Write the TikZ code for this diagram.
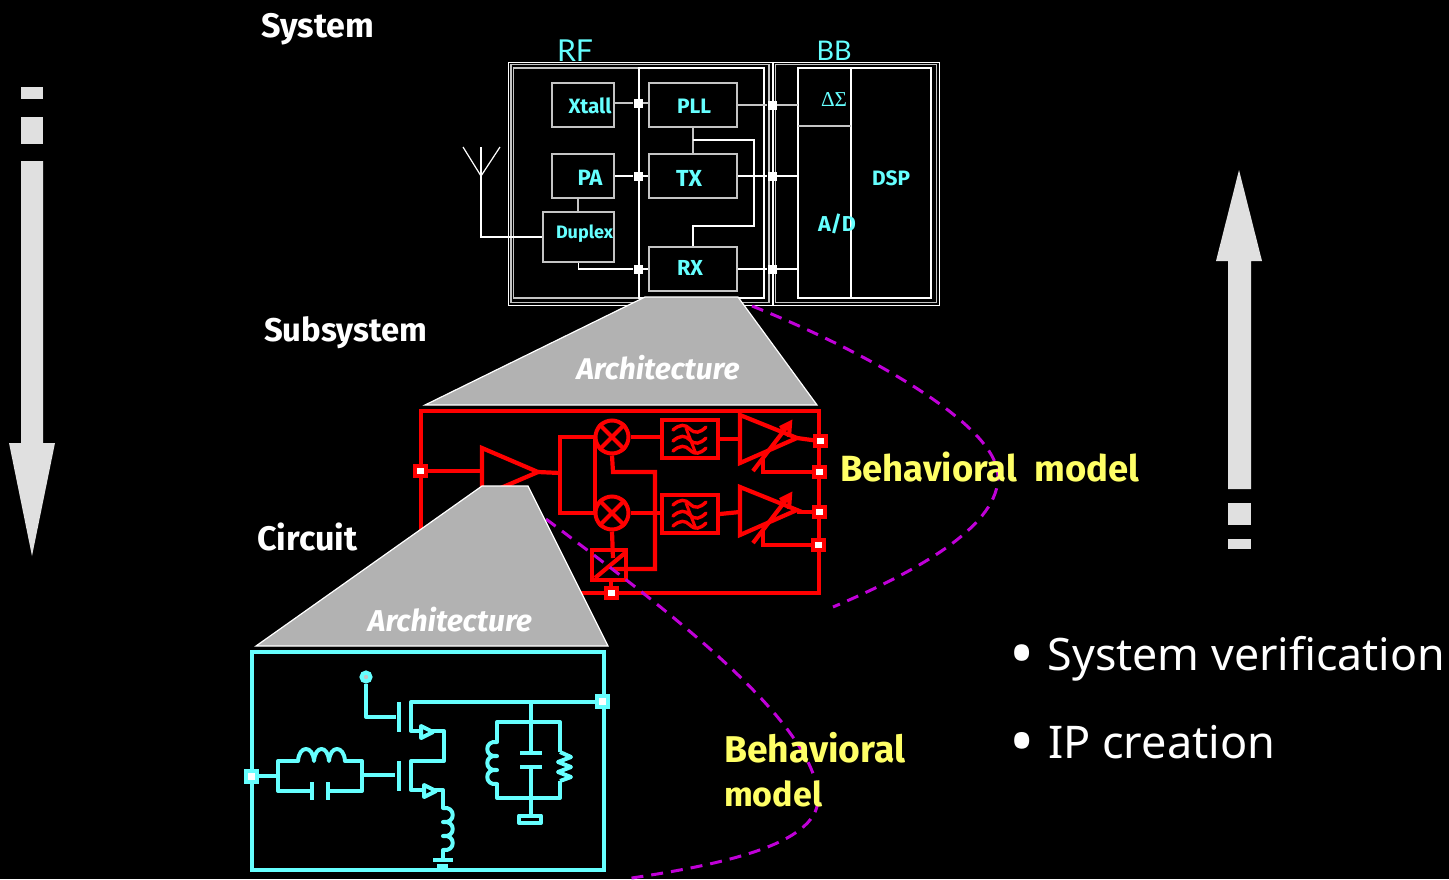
\documentclass[tikz,border=0pt]{standalone}
\usepackage{fontspec}
\usepackage{graphicx}
\setmainfont{Noto Sans}
\newfontfamily\hand{Fira Sans}[BoldFont={Fira Sans Bold},ItalicFont={Fira Sans Italic}]
\newfontfamily\thin{Lato}
\newfontfamily\sym{Liberation Serif}
\newcommand{\fitw}[2]{\resizebox{#1pt}{!}{#2}}
\definecolor{cy}{HTML}{66FFFF}
\definecolor{yl}{HTML}{FFFF66}
\definecolor{mg}{HTML}{C000D8}
\definecolor{gr}{HTML}{B2B2B2}
\definecolor{ar}{HTML}{E0E0E0}
\definecolor{ln}{HTML}{C4C4C4}
\newcommand{\vcoil}[4]{% x, y0, bump height, n
  \foreach \i in {1,...,#4}{ (#1,{#2+(\i-1)*#3}) .. controls (#1-13,{#2+(\i-1)*#3-2}) and (#1-13,{#2+\i*#3+2}) .. (#1,{#2+\i*#3}) }}
\tikzset{
  gbox/.style={draw=ln,line width=1.5pt,inner sep=0pt},
  wsq/.style={fill=white,draw=none,minimum size=9pt,inner sep=0pt},
  wl/.style={draw=white,line width=1.2pt},
  cyl/.style={text=cy,inner sep=0pt},
  rd/.style={draw=red,line width=4.2pt,line join=miter},
  rsq/.style={draw=red,fill=white,line width=4pt,minimum width=11pt,minimum height=10pt,inner sep=0pt},
  cya/.style={draw=cy,line width=4pt,line join=round},
  csq/.style={draw=cy,fill=white,line width=4pt,minimum size=11pt,inner sep=0pt},
  dsh/.style={draw=mg,line width=3pt,dash pattern=on 12pt off 8pt},
  gtrap/.style={fill=gr,draw=white,line width=1.2pt},
  heavy/.style={text=white,font=\hand\bfseries,inner sep=0pt,anchor=west},
  ylw/.style={text=yl,font=\hand\bfseries,inner sep=0pt,anchor=west},
  arch/.style={text=white,font=\hand\bfseries\itshape,inner sep=0pt},
  bul/.style={text=white,inner sep=0pt,anchor=west},
  blab/.style={text=cy,inner sep=0pt,font=\hand\bfseries},
  bar/.style={fill=ar,draw=none}
}
\begin{document}
\begin{tikzpicture}[x=1pt,y=-1pt]
\useasboundingbox[fill=black] (0,0) rectangle (1449,879);
% side arrows
\fill[bar] (21,87) rectangle (43,99);
\fill[bar] (21,117) rectangle (43,144);
\fill[bar] (21,161) -- (43,161) -- (43,443) -- (55,443) -- (32,556) -- (9,443) -- (21,443) -- cycle;
\fill[bar] (1228,539) rectangle (1251,549);
\fill[bar] (1228,503) rectangle (1251,525);
\fill[bar] (1228,489) -- (1251,489) -- (1251,261) -- (1262,261) -- (1239,170) -- (1216,261) -- (1228,261) -- cycle;
% headings
\node[heavy] (hsys) at (261,29) {\fitw{113}{System}};
\node[heavy] (hsub) at (264,333) {\fitw{163}{Subsystem}};
\node[heavy] (hcir) at (257,537) {\fitw{100}{Circuit}};
\node[cyl] (lrf) at (575,51) {\thin\fitw{36}{RF}};
\node[cyl] (lbb) at (834,51) {\thin\fitw{35}{BB}};
% RF frames
\node[draw=white,line width=1pt,minimum width=264,minimum height=243,inner sep=0pt] (rfo) at (640,183.5) {};
\node[draw=ln,line width=1.6pt,minimum width=258,minimum height=238,inner sep=0pt] (rfi) at (640,183.5) {};
\node[draw=ln,line width=1.3pt,minimum width=125,minimum height=230,inner sep=0pt] (rfl) at (576,183) {};
\node[draw=white,line width=2pt,minimum width=125,minimum height=230,inner sep=0pt] (rfr) at (701.5,183) {};
\node[draw=white,line width=1pt,minimum width=166,minimum height=243,inner sep=0pt] (bbo) at (856,183.5) {};
\node[draw=ln,line width=1.6pt,minimum width=161,minimum height=238,inner sep=0pt] (bbi) at (856,183.5) {};
\node[draw=white,line width=2pt,minimum width=133,minimum height=230,inner sep=0pt] (bbb) at (864.5,183) {};
\draw[wl] (851,68) -- (851,298);
\draw[draw=ln,line width=1.5pt] (798,126) -- (851,126);
% blocks
\node[gbox,minimum width=62,minimum height=44] (xtall) at (583,105) {};
\node[gbox,minimum width=88,minimum height=44] (pll) at (693,105) {};
\node[gbox,minimum width=62,minimum height=44] (pa) at (583,176) {};
\node[gbox,minimum width=88,minimum height=44] (tx) at (693,176) {};
\node[gbox,minimum width=71,minimum height=50] (dup) at (578.5,237) {};
\node[gbox,minimum width=88,minimum height=44] (rx) at (693,269) {};
\node[wsq] (s1) at (638,103) {};
\node[wsq] (s2) at (638,176) {};
\node[wsq] (s3) at (638,269) {};
\node[wsq] (t1) at (772,105) {};
\node[wsq] (t2) at (772,176) {};
\node[wsq] (t3) at (772,269) {};
\coordinate (b1) at (798,105);
\coordinate (b2) at (798,176);
\coordinate (b3) at (798,269);
\coordinate (atip) at (481,176);
\coordinate (al) at (463,147);
\coordinate (ar) at (500,147);
\coordinate (atop) at (481,147);
% connectors
\draw[draw=ln,line width=1.3pt] (xtall.east |- s1) -- (s1) -- (pll.west |- s1);
\draw[draw=ln,line width=1.3pt] (pll.east) -- (t1) -- (b1);
\draw[wl] (pa.east) -- (s2) -- (tx.west);
\draw[wl] (tx.east) -- (t2) -- (b2);
\draw[wl] (rx.east) -- (t3) -- (b3);
\draw[wl] (s3) -- (rx.west);
\draw[draw=ln,line width=1.5pt] (pll.south) -- (tx.north);
\draw[wl] (693,140) -- (754,140) -- (754,226) -- (693,226) -- (rx.north);
\draw[draw=ln,line width=1.5pt] ([xshift=-5pt]pa.south) -- ([xshift=-5pt]pa.south |- dup.north);
\draw[wl] (dup.south) |- (s3);
\draw[wl] (al) -- (atip) -- (ar);
\draw[wl] (atop) -- (atip) |- (dup.west);
% block labels
\node[blab] (lx) at (590,106) {\fitw{43}{Xtall}};
\node[blab] (lp) at (694,106) {\fitw{34}{PLL}};
\node[blab] (la) at (590,178) {\fitw{25}{PA}};
\node[blab] (lt) at (689,178) {\fitw{26}{TX}};
\node[blab] (lr) at (690,268) {\fitw{26}{RX}};
\node[blab] (ld) at (584.5,234) {\fitw{57}{Duplex}};
\node[cyl] (lds) at (834,99) {\sym\fitw{26}{ΔΣ}};
\node[blab] (lad) at (837,224) {\fitw{38}{A/D}};
\node[blab] (ldsp) at (891,178) {\fitw{38}{DSP}};
% red subsystem
\node[draw=red,line width=4pt,minimum width=398,minimum height=182,inner sep=0pt] (rbox) at (620,502) {};
\node[draw=red,line width=4pt,circle,minimum size=33pt,inner sep=0pt] (m1) at (612,437) {};
\node[draw=red,line width=4pt,circle,minimum size=33pt,inner sep=0pt] (m2) at (612,513) {};
\draw[rd] (m1.45) -- (m1.225) (m1.135) -- (m1.315);
\draw[rd] (m2.45) -- (m2.225) (m2.135) -- (m2.315);
\node[draw=red,line width=4pt,minimum width=56,minimum height=38,inner sep=0pt] (f1) at (690,439) {};
\node[draw=red,line width=4pt,minimum width=56,minimum height=38,inner sep=0pt] (f2) at (690,514) {};
\node[draw=red,line width=4pt,minimum width=34,minimum height=30,inner sep=0pt] (sp) at (609,564.5) {};
\foreach \d in {0,75}{
 \begin{scope}[yshift=-\d pt]
  \foreach \o in {-9,2,12}{
   \draw[red,line width=3.4pt,line cap=round] (673,439+\o) .. controls (680,433+\o) and (685,433+\o) .. (690,438+\o) .. controls (695,443+\o) and (700,442+\o) .. (706,436+\o);
  }
  \draw[red,line width=3pt] (686,428) -- (696,454);
 \end{scope}}
\foreach \d in {0,72}{
 \begin{scope}[yshift=-\d pt]
  \draw[rd] (740,415) -- (740,463) -- (797,438) -- cycle;
  \draw[rd] (753,471) -- (789,424) (780,428) -- (790,423) -- (789,437);
 \end{scope}}
% red wiring
\coordinate (a1t) at (538,472);
\draw[rd] (420,471) -- (482,471);
\draw[rd] (482,448) -- (482,496) -- (a1t) -- cycle;
\draw[rd] (a1t) -- (560,473);
\draw[rd] (m1.west) -- (560,437) -- (560,513) -- (m2.west);
\draw[rd] (595,437) -- (595,513);
\draw[rd] (m1.east) -- (f1.west |- m1);
\draw[rd] (m2.east) -- (f2.west |- m2);
\draw[rd] (m1.south) -- (613,472) -- (655,472) -- (655,569) -- (613,569);
\draw[rd] (m2.south) -- (613,558);
\draw[rd] (595,578) -- (625,553);
\draw[rd] (611,580) -- (611,593);
\draw[rd] (f1.east) -- (740,439);
\draw[rd] (f2.east) -- (740,512);
\draw[rd] (797,438) -- (819,441);
\draw[rd] (797,512) -- (819,512);
\draw[rd] (763,458) -- (763,472) -- (819,472);
\draw[rd] (763,530) -- (763,545) -- (819,545);
\node[rsq] (ri) at (420,471) {};
\node[rsq] (ro1) at (820,441) {};
\node[rsq] (ro2) at (819,472) {};
\node[rsq] (ro3) at (819,512) {};
\node[rsq] (ro4) at (818,545) {};
\node[rsq] (rb) at (611,593) {};
% cyan circuit
\node[draw=cy,line width=3.8pt,minimum width=352,minimum height=218,inner sep=0pt] (cbox) at (428,761) {};
\node[circle,draw=cy,fill=ln,line width=4pt,minimum size=9pt,inner sep=0pt] (vd) at (366,677) {};
\draw[cya] (vd) -- (366,717) -- (396,717);
\draw[cya] (399,702) -- (399,732);
\draw[cya] (399,761) -- (399,791);
\draw[cya] (602,702) -- (411,702) -- (411,731) -- (444,731) -- (444,761) -- (411,761) -- (411,790) -- (443,790) -- (443,808);
\draw[cya,fill=black] (421,726) -- (433,732) -- (421,738) -- cycle;
\draw[cya,fill=black] (424,785) -- (436,791) -- (424,797) -- cycle;
\draw[cya,xscale=-1,line cap=round] \vcoil{-443}{808}{14}{3};
\draw[cya] (443,850) -- (443,860);
\draw[cya] (433,860) -- (453,860);
\fill[cy] (437,864) rectangle (448,869);
\draw[cya] (251,776) -- (278,776);
\draw[cya] (298,761) -- (278,761) -- (278,791) -- (311,791);
\draw[cya] (312,782) -- (312,800);
\draw[cya] (328,782) -- (328,800);
\draw[cya] (329,791) -- (362,791) -- (362,761) -- (345,761);
\draw[cya,line cap=round] (298,761) .. controls (299,745) and (313,745) .. (314,761) .. controls (315,745) and (328,745) .. (329,761) .. controls (330,745) and (344,745) .. (345,761);
\draw[cya] (363,775) -- (395,775);
\draw[cya] (531,702) -- (531,722);
\draw[cya] (497,742) -- (497,722) -- (560,722) -- (560,752);
\draw[cya,line cap=round] \vcoil{497}{742}{14}{3};
\draw[cya] (497,783) -- (497,798) -- (560,798) -- (560,781);
\draw[cya] (560,752) -- (571,757) -- (558,762) -- (571,767) -- (558,772) -- (571,777) -- (560,781);
\draw[cya] (531,722) -- (531,753);
\draw[cya] (520,753) -- (542,753);
\draw[cya] (520,767) -- (542,767);
\draw[cya] (531,767) -- (531,815);
\draw[cya] (519,815.5) rectangle (541,823);
\node[csq] (ci) at (251,776) {};
\node[csq] (co) at (602,701) {};
% dashed
\coordinate (d1a) at (752,306);
\coordinate (d1b) at (833,607);
\coordinate (d2a) at (546,519);
\coordinate (d2b) at (625,879);
\draw[dsh] (d1a) .. controls (850,345) and (995,420) .. (998,475) .. controls (1000,525) and (920,570) .. (d1b);
\draw[dsh] (d2a) .. controls (640,590) and (820,720) .. (818,800) .. controls (816,845) and (720,865) .. (d2b);
% gray trapezoids
\path[gtrap] (645,297) -- (738,297) -- (817,405) -- (425,405) -- cycle;
\path[gtrap] (482,486) -- (528,486) -- (608,646) -- (256,646) -- cycle;
\node[arch] (ar1) at (658,368) {\fitw{163}{Architecture}};
\node[arch] (ar2) at (450,620) {\fitw{164}{Architecture}};
% yellow labels
\node[ylw] (bm1) at (840,467) {\fitw{299}{Behavioral\ \ model}};
\node[ylw] (bm2) at (724,748) {\fitw{181}{Behavioral}};
\node[ylw] (bm3) at (724,794) {\fitw{98}{model}};
% bullets
\node[bul] (v1) at (1009,659) {\fitw{436}{\raisebox{-.16em}{\scalebox{1.5}{•}}\hspace{.3em}System verification}};
\node[bul] (v2) at (1009,745) {\fitw{266}{\raisebox{-.16em}{\scalebox{1.5}{•}}\hspace{.3em}IP creation}};
\end{tikzpicture}
\end{document}
